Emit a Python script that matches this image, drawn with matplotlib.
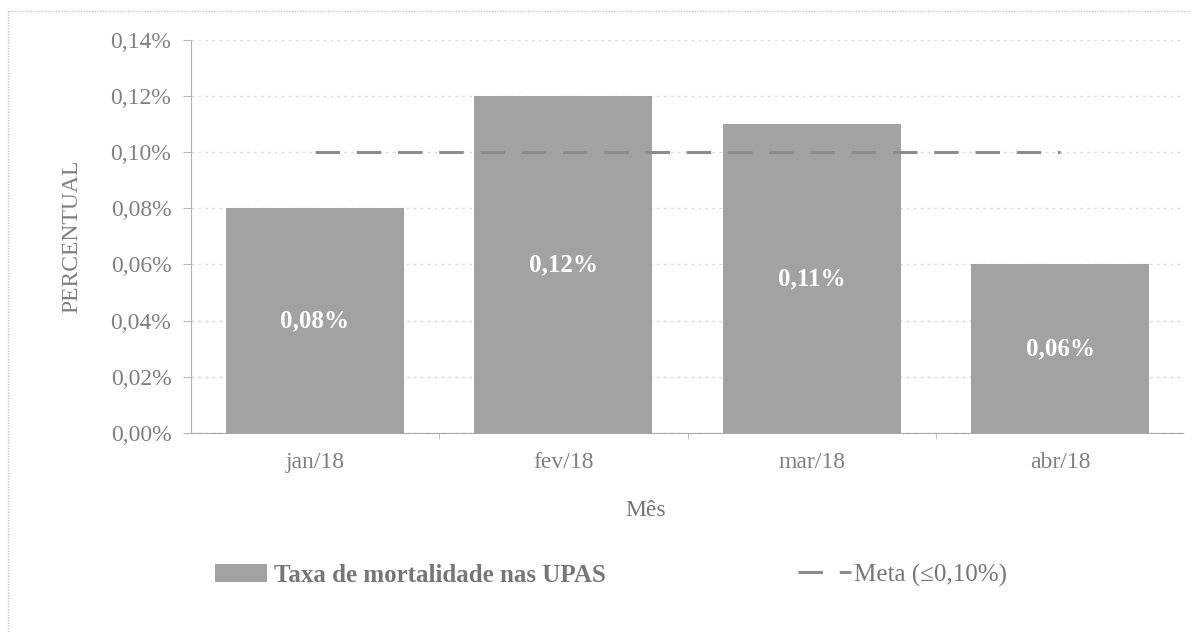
import matplotlib
matplotlib.use("Agg")
import matplotlib.pyplot as plt
from matplotlib.ticker import FuncFormatter, MultipleLocator
from matplotlib.patches import Patch
from matplotlib.lines import Line2D

months = ["jan/18", "fev/18", "mar/18", "abr/18"]
taxa = [0.08, 0.12, 0.11, 0.06]
meta = [0.10, 0.10, 0.10, 0.10]
value_labels = ["0,08%", "0,12%", "0,11%", "0,06%"]
legend_labels = ["Taxa de mortalidade nas UPAS", "Meta (≤0,10%)"]

plt.rcParams['font.family'] = ['Liberation Serif', 'DejaVu Serif']
txt = "#808080"
leg_txt = "#767676"
bar_c = "#a2a2a2"
line_c = "#8c8c8c"
dash = (8, 5.5)

fig = plt.figure(figsize=(12, 6.32), dpi=100)
ax = fig.add_axes([0.159, 0.315, 0.828, 0.622])

x = list(range(len(months)))
bars = ax.bar(x, taxa, width=0.716, color=bar_c, edgecolor="none", zorder=2)
ax.plot(x, meta, color=line_c, lw=2.2, dashes=dash, zorder=3)

for b, lab in zip(bars, value_labels):
    ax.text(b.get_x() + b.get_width() / 2, b.get_height() / 2, lab,
            ha="center", va="center", color="white", fontsize=18,
            fontweight="bold", zorder=4)

ax.set_xlim(-0.5, 3.5)
ax.set_ylim(0, 0.14)
ax.yaxis.set_major_locator(MultipleLocator(0.02))
ax.yaxis.set_major_formatter(FuncFormatter(lambda v, p: f"{v:.2f}".replace(".", ",") + "%"))
ax.set_xticks(x)
ax.set_xticklabels(months)
ax.set_xticks([0.5, 1.5, 2.5], minor=True)
ax.grid(axis="y", color="#dadada", linestyle=(0, (2, 3)), lw=1, zorder=0)

for s in ["top", "right"]:
    ax.spines[s].set_visible(False)
ax.spines["left"].set_color("#b0b0b0")
ax.spines["left"].set_linestyle((0, (1, 1)))
ax.spines["bottom"].set_color("#a8a8a8")
ax.spines["bottom"].set_linestyle((0, (2, 1)))
ax.tick_params(axis="y", colors=txt, labelsize=17, length=6, pad=8, color="#b8b8b8")
ax.tick_params(axis="x", which="major", colors=txt, labelsize=17, length=0, pad=14)
ax.tick_params(axis="x", which="minor", length=4, color="#b8b8b8")

ax.set_ylabel("PERCENTUAL", color=txt, fontsize=17, labelpad=20)
ax.set_xlabel("Mês", color=leg_txt, fontsize=17)
ax.xaxis.set_label_coords(0.458, -0.198)
ax.xaxis.label.set_va("center")

leg1 = fig.legend([Patch(facecolor=bar_c, edgecolor="none")], [legend_labels[0]],
                  loc="center left", bbox_to_anchor=(0.179, 0.09), frameon=False,
                  borderpad=0, borderaxespad=0, handlelength=2.1, handleheight=0.75,
                  handletextpad=0.25, labelcolor=leg_txt,
                  prop={"weight": "bold", "size": 18})
leg2 = fig.legend([Line2D([0], [0], color=line_c, lw=2.2, dashes=dash)], [legend_labels[1]],
                  loc="center left", bbox_to_anchor=(0.665, 0.09), frameon=False,
                  borderpad=0, borderaxespad=0, handlelength=2.1,
                  handletextpad=0.15, labelcolor=leg_txt,
                  prop={"size": 18})

border = dict(color="#c4c4c4", lw=1, linestyle=(0, (1, 1)), transform=fig.transFigure)
fig.add_artist(Line2D([0.007, 0.992], [0.982, 0.982], **border))
fig.add_artist(Line2D([0.007, 0.007], [0.0, 0.982], **border))

fig.savefig("out.png", dpi=100, facecolor="white")
